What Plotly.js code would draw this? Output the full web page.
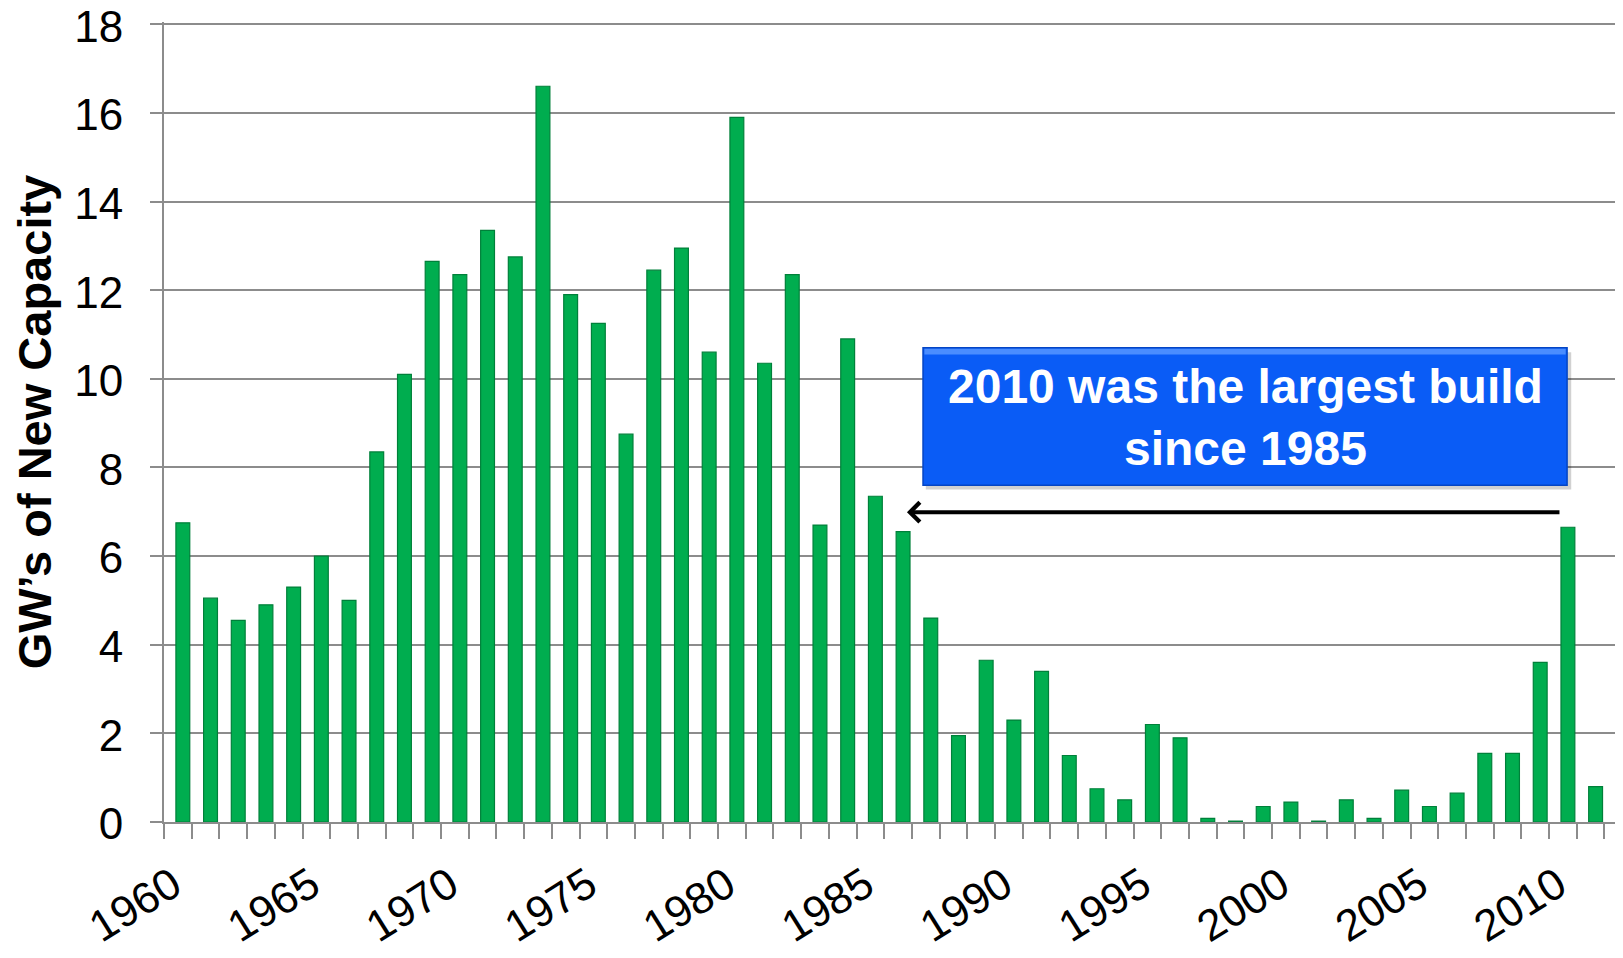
<!DOCTYPE html>
<html>
<head>
<meta charset="utf-8">
<script src="https://cdn.plot.ly/plotly-3.0.1.min.js"></script>
<style>
  html, body { margin: 0; padding: 0; background: #ffffff; }
  #chart { width: 1623px; height: 958px; }
</style>
</head>
<body>
<div id="chart"></div>
<script>
// ---- Data ----
const years = [
  1960, 1961, 1962, 1963, 1964, 1965, 1966, 1967, 1968, 1969,
  1970, 1971, 1972, 1973, 1974, 1975, 1976, 1977, 1978, 1979,
  1980, 1981, 1982, 1983, 1984, 1985, 1986, 1987, 1988, 1989,
  1990, 1991, 1992, 1993, 1994, 1995, 1996, 1997, 1998, 1999,
  2000, 2001, 2002, 2003, 2004, 2005, 2006, 2007, 2008, 2009,
  2010, 2011
];
const newCapacityGW = [
  6.75, 5.05, 4.55, 4.9, 5.3, 6.0, 5.0, 8.35, 10.1, 12.65,
  12.35, 13.35, 12.75, 16.6, 11.9, 11.25, 8.75, 12.45, 12.95, 10.6,
  15.9, 10.35, 12.35, 6.7, 10.9, 7.35, 6.55, 4.6, 1.95, 3.65,
  2.3, 3.4, 1.5, 0.75, 0.5, 2.2, 1.9, 0.08, 0.02, 0.35,
  0.45, 0.02, 0.5, 0.08, 0.72, 0.35, 0.65, 1.55, 1.55, 3.6,
  6.65, 0.8
];
const xTickYears = [1960, 1965, 1970, 1975, 1980, 1985, 1990, 1995, 2000, 2005, 2010];
const xTickLabels = ["1960", "1965", "1970", "1975", "1980", "1985", "1990", "1995", "2000", "2005", "2010"];
const yTickValues = [0, 2, 4, 6, 8, 10, 12, 14, 16, 18];
const yAxisTitle = "GW\u2019s of New Capacity";
const calloutText = "2010 was the largest build<br>since 1985";

const FONT = "Liberation Sans, Arial, Helvetica, sans-serif";
const GRID = "#8c8c8c";

const trace = {
  type: "bar",
  x: years,
  y: newCapacityGW,
  width: 0.5,
  offset: -0.07,
  marker: {
    color: "#00ad4f",
    line: { color: "#00803a", width: 1.2 }
  },
  hoverinfo: "x+y",
  showlegend: false
};

const layout = {
  width: 1623,
  height: 958,
  paper_bgcolor: "#ffffff",
  plot_bgcolor: "#ffffff",
  margin: { l: 164, r: 8, t: 22, b: 136 },
  font: { family: FONT, color: "#000000" },
  showlegend: false,
  xaxis: {
    range: [1959.5, 2011.88],
    tickmode: "array",
    tickvals: xTickYears,
    ticktext: xTickLabels,
    tickangle: -32,
    ticks: "",
    ticklabelstandoff: 18,
    ticklabelshift: -5,
    tickfont: { family: FONT, size: 44, color: "#000000" },
    showgrid: false,
    zeroline: false,
    showline: true,
    linecolor: GRID,
    linewidth: 2,
    minor: {
      ticks: "outside",
      tick0: 1959.5,
      dtick: 1,
      ticklen: 15,
      tickwidth: 2,
      tickcolor: GRID,
      showgrid: false
    }
  },
  yaxis: {
    range: [0, 18.05],
    tickmode: "array",
    tickvals: yTickValues,
    ticks: "outside",
    ticklen: 12,
    tickwidth: 2,
    tickcolor: GRID,
    ticklabelstandoff: 18,
    ticklabelshift: 2,
    ticklabeloverflow: "allow",
    tickfont: { family: FONT, size: 44, color: "#000000" },
    showgrid: true,
    gridcolor: GRID,
    gridwidth: 2,
    zeroline: false,
    showline: true,
    linecolor: GRID,
    linewidth: 2,
    title: {
      text: "<b>" + yAxisTitle + "</b>",
      font: { family: FONT, size: 47, color: "#000000" },
      standoff: 8
    }
  },
  shapes: [
    // soft shadow of callout box
    {
      type: "rect", xref: "x", yref: "y", layer: "above",
      x0: 1987.0, x1: 2010.3, y0: 7.5, y1: 10.6,
      fillcolor: "rgba(0,0,0,0.18)", line: { width: 0 }
    },
    // callout box
    {
      type: "rect", xref: "x", yref: "y", layer: "above",
      x0: 1986.9, x1: 2010.15, y0: 7.6, y1: 10.7,
      fillcolor: "#0a5cf6", line: { color: "#0445c4", width: 1.5 }
    },
    // lighter bevel strip at top of the box
    {
      type: "rect", xref: "x", yref: "y", layer: "above",
      x0: 1986.95, x1: 2010.1, y0: 10.55, y1: 10.68,
      fillcolor: "#4a8dff", line: { width: 0 }
    }
  ],
  annotations: [
    {
      xref: "x", yref: "y",
      x: 1998.53, y: 9.12,
      text: "<b>" + calloutText + "</b>",
      showarrow: false,
      font: { family: FONT, size: 48, color: "#ffffff" },
      align: "center",
      xanchor: "center", yanchor: "middle"
    },
    {
      xref: "x", yref: "y", axref: "x", ayref: "y",
      x: 1986.32, y: 6.99,
      ax: 2009.93, ay: 6.99,
      text: "",
      showarrow: true,
      arrowhead: 4,
      arrowsize: 0.95,
      arrowwidth: 4,
      arrowcolor: "#000000"
    }
  ]
};

Plotly.newPlot("chart", [trace], layout, { displayModeBar: false, staticPlot: true });
</script>
</body>
</html>
